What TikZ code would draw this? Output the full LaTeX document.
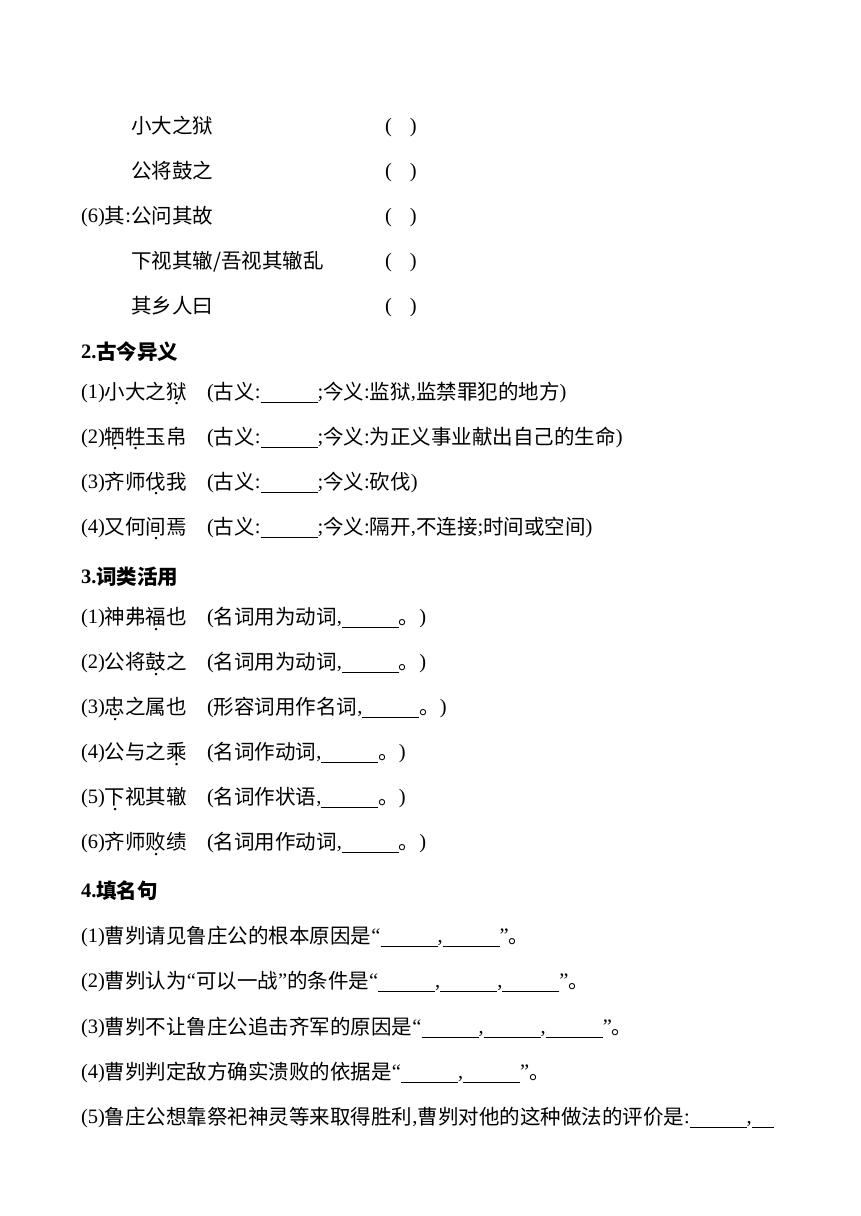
\documentclass[tikz,border=0pt]{standalone}
\usepackage{fontspec}
\setmainfont{Liberation Serif}
\newfontfamily\cjk{Noto Sans CJK SC}
\newcommand\zh[1]{\raisebox{-1pt}{\cjk #1}}
\newcommand\bl[1][57pt]{\rule[-4.5pt]{#1}{0.9pt}}
\newcommand\zd[1]{\zh{#1}\llap{\makebox[20.5pt][c]{\raisebox{-6.3pt}{.}}}}
\begin{document}
\begin{tikzpicture}[x=1pt,y=-1pt,
  t/.style={anchor=base west,inner sep=0pt,outer sep=0pt,font=\fontsize{20.5}{24}\selectfont},
  hd/.style={t,font=\fontsize{20.5}{24}\selectfont\bfseries}]
\fill[white] (0,0) rectangle (860,1216);
\useasboundingbox (0,0) rectangle (860,1216);
% section 1 tail
\node[t] (s1a) at (131,132.6) {\zh{小大之狱}};
\node[t] (s1ap) at (385,132.6) {(\hspace{18pt})};
\node[t] (s1b) at (131,177.6) {\zh{公将鼓之}};
\node[t] (s1bp) at (385,177.6) {(\hspace{18pt})};
\node[t] (s1c) at (81,222.6) {(6)\zh{其}:\zh{公问其故}};
\node[t] (s1cp) at (385,222.6) {(\hspace{18pt})};
\node[t] (s1d) at (131,267.6) {\zh{下视其辙/吾视其辙乱}};
\node[t] (s1dp) at (385,267.6) {(\hspace{18pt})};
\node[t] (s1e) at (131,312.6) {\zh{其乡人曰}};
\node[t] (s1ep) at (385,312.6) {(\hspace{18pt})};
% section 2
\node[hd] (h2) at (81,358.8) {2.\zh{古今异义}};
\node[t] (s2a) at (81,398.5) {(1)\zh{小大之}\zd{狱}};
\node[t] (s2ar) at (207,398.5) {(\zh{古义}:\bl;\zh{今义}:\zh{监狱},\zh{监禁罪犯的地方})};
\node[t] (s2b) at (81,443.5) {(2)\zd{牺}\zd{牲}\zh{玉帛}};
\node[t] (s2br) at (207,443.5) {(\zh{古义}:\bl;\zh{今义}:\zh{为正义事业献出自己的生命})};
\node[t] (s2c) at (81,488.5) {(3)\zh{齐师}\zd{伐}\zh{我}};
\node[t] (s2cr) at (207,488.5) {(\zh{古义}:\bl;\zh{今义}:\zh{砍伐})};
\node[t] (s2d) at (81,533.5) {(4)\zh{又何}\zd{间}\zh{焉}};
\node[t] (s2dr) at (207,533.5) {(\zh{古义}:\bl;\zh{今义}:\zh{隔开},\zh{不连接};\zh{时间或空间})};
% section 3
\node[hd] (h3) at (81,583) {3.\zh{词类活用}};
\node[t] (s3a) at (81,623.8) {(1)\zh{神弗}\zd{福}\zh{也}};
\node[t] (s3ar) at (207,623.8) {(\zh{名词用为动词},\bl\zh{。})};
\node[t] (s3b) at (81,668.8) {(2)\zh{公将}\zd{鼓}\zh{之}};
\node[t] (s3br) at (207,668.8) {(\zh{名词用为动词},\bl\zh{。})};
\node[t] (s3c) at (81,713.8) {(3)\zd{忠}\zh{之属也}};
\node[t] (s3cr) at (207,713.8) {(\zh{形容词用作名词},\bl\zh{。})};
\node[t] (s3d) at (81,758.8) {(4)\zh{公与之}\zd{乘}};
\node[t] (s3dr) at (207,758.8) {(\zh{名词作动词},\bl\zh{。})};
\node[t] (s3e) at (81,803.8) {(5)\zd{下}\zh{视其辙}};
\node[t] (s3er) at (207,803.8) {(\zh{名词作状语},\bl\zh{。})};
\node[t] (s3f) at (81,848.8) {(6)\zh{齐师}\zd{败}\zh{绩}};
\node[t] (s3fr) at (207,848.8) {(\zh{名词用作动词},\bl\zh{。})};
% section 4
\node[hd] (h4) at (81,897) {4.\zh{填名句}};
\node[t] (s4a) at (81,942.3) {(1)\zh{曹刿请见鲁庄公的根本原因是}“\bl,\bl”\zh{。}};
\node[t] (s4b) at (81,987.3) {(2)\zh{曹刿认为}“\zh{可以一战}”\zh{的条件是}“\bl,\bl,\bl”\zh{。}};
\node[t] (s4c) at (81,1033.3) {(3)\zh{曹刿不让鲁庄公追击齐军的原因是}“\bl,\bl,\bl”\zh{。}};
\node[t] (s4d) at (81,1078.3) {(4)\zh{曹刿判定敌方确实溃败的依据是}“\bl,\bl”\zh{。}};
\node[t] (s4e) at (81,1123.3) {(5)\zh{鲁庄公想靠祭祀神灵等来取得胜利},\zh{曹刿对他的这种做法的评价是}:\bl,\bl[22pt]};
\end{tikzpicture}
\end{document}
